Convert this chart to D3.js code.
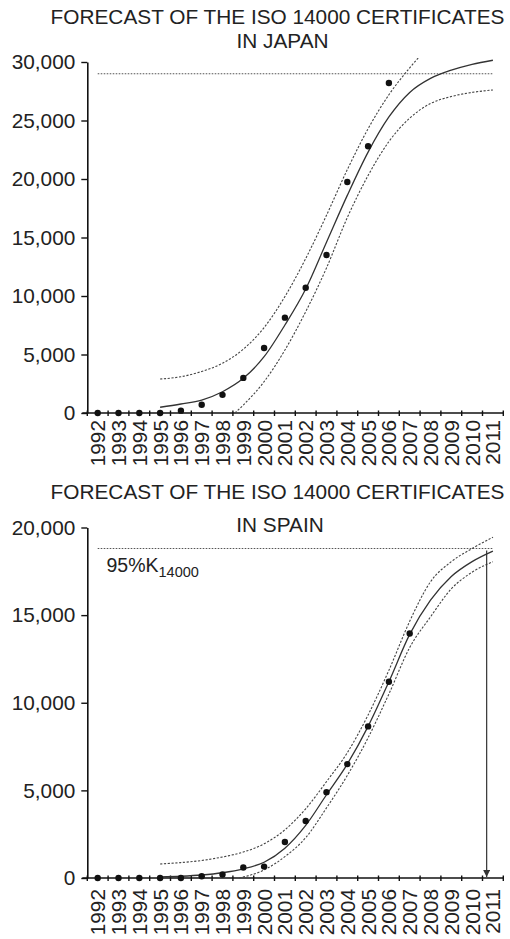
<!DOCTYPE html>
<html>
<head>
<meta charset="utf-8">
<script src="https://cdn.jsdelivr.net/npm/d3@7"></script>
<style>
  html, body { margin: 0; padding: 0; background: #fff; }
  svg { display: block; font-family: "Liberation Sans", Arial, sans-serif; }
</style>
</head>
<body>
<svg id="chart" width="510" height="939"></svg>
<script>
// ---------- DATA ----------
const years = [1992,1993,1994,1995,1996,1997,1998,1999,2000,2001,2002,2003,2004,2005,2006,2007,2008,2009,2010,2011];
const yTicksJapan = [0,5000,10000,15000,20000,25000,30000];
const yTicksSpain = [0,5000,10000,15000,20000];

// Japan
const japanObsYears = [1992,1993,1994,1995,1996,1997,1998,1999,2000,2001,2002,2003,2004,2005,2006];
const japanObs      = [0,0,0,0,200,700,1550,3000,5550,8150,10700,13500,19750,22800,28200];
const japanFitYears = [1995,1996,1997,1998,1999,2000,2001,2002,2003,2004,2005,2006,2007,2008,2009,2010,2011];
const japanFit      = [490,770,1110,1820,2960,4810,7520,10600,14600,18600,22300,25300,27400,28600,29300,29800,30150];
const japanUpYears  = [1995,1996,1997,1998,1999,2000,2001,2002,2003,2004,2005,2006,2007,2008];
const japanUp       = [2900,3100,3550,4250,5450,7300,9950,13200,16900,20800,24300,27200,29500,31500];
const japanLoYears  = [1998.6,1999,2000,2001,2002,2003,2004,2005,2006,2007,2008,2009,2010,2011];
const japanLo       = [0,680,2680,5380,8660,12400,16700,20300,23200,25200,26450,27050,27400,27610];
const japanK95      = 29000;

// Spain
const spainObsYears = [1992,1993,1994,1995,1996,1997,1998,1999,2000,2001,2002,2003,2004,2005,2006,2007];
const spainObs      = [0,0,0,0,0,100,200,600,650,2050,3250,4900,6500,8650,11200,13950];
const spainFitYears = [1995,1996,1997,1998,1999,2000,2001,2002,2003,2004,2005,2006,2007,2008,2009,2010,2011];
const spainFit      = [60,100,170,300,520,900,1700,3000,4750,6500,8650,11200,13900,15850,17200,18050,18650];
const spainUpYears  = [1995,1996,1997,1998,1999,2000,2001,2002,2003,2004,2005,2006,2007,2008,2009,2010,2011];
const spainUp       = [800,880,1000,1200,1480,1950,2750,3950,5500,7150,9300,11850,14650,16900,18050,18800,19450];
const spainLoYears  = [1998.8,2000,2001,2002,2003,2004,2005,2006,2007,2008,2009,2010,2011];
const spainLo       = [0,460,1220,2300,4000,5850,8000,10500,13150,14900,16500,17450,18050];
const spainK95      = 18800;
const spainArrowYear = 2010.7;

// ---------- DRAW ----------
const svg = d3.select("#chart");
const fontSize = 20.8;
const titleSize = 20.8;

function zip(xs, ys) { return xs.map((x, i) => ({x, y: ys[i]})); }

function drawChart(o) {
  const g = svg.append("g");
  const x = d3.scaleLinear().domain([1991.5, 2011.5]).range([87.3, 503.3]);
  const y = d3.scaleLinear().domain([0, o.yMax]).range([o.y0, o.yTop]);

  // titles
  g.append("text").attr("x", 277.5).attr("y", o.title1Y).attr("text-anchor", "middle")
    .attr("font-size", titleSize).attr("fill", "#222").text(o.title1);
  g.append("text").attr("x", o.title2X).attr("y", o.title2Y).attr("text-anchor", "middle")
    .attr("font-size", titleSize).attr("fill", "#222").text(o.title2);

  // clip
  const clipId = "clip" + o.id;
  g.append("clipPath").attr("id", clipId).append("rect")
    .attr("x", x(1991.5)).attr("y", y(o.clipTop)).attr("width", x(2011.5) - x(1991.5) + 2)
    .attr("height", y(0) - y(o.clipTop) + 1);

  // y axis
  const ya = g.append("g").attr("transform", `translate(${x(1991.5)},0)`)
    .call(d3.axisLeft(y).tickValues(o.yTicks).tickFormat(d3.format(",")).tickSize(6).tickPadding(6).tickSizeOuter(0));
  ya.select(".domain").attr("stroke", "#111").attr("stroke-width", 1.6);
  ya.selectAll(".tick line").attr("stroke", "#111").attr("stroke-width", 1.4);
  ya.selectAll(".tick text").attr("font-size", fontSize).attr("fill", "#222")
    .attr("font-family", "Liberation Sans, Arial, sans-serif");

  // x axis: ticks between categories
  const boundaries = d3.range(1991.5, 2012, 1);
  const xa = g.append("g").attr("transform", `translate(0,${y(0)})`);
  xa.append("line").attr("x1", x(1991.5) - 5).attr("x2", x(2011.5)).attr("stroke", "#111").attr("stroke-width", 1.6);
  xa.selectAll("line.tk").data(boundaries).join("line").attr("class", "tk")
    .attr("x1", d => x(d)).attr("x2", d => x(d)).attr("y1", -2.5).attr("y2", 3)
    .attr("stroke", "#111").attr("stroke-width", 1.4);
  xa.selectAll("text").data(years).join("text")
    .attr("transform", d => `translate(${x(d)},${o.labelOff}) rotate(-90)`)
    .attr("text-anchor", "end").attr("dy", "0.36em")
    .attr("font-size", fontSize).attr("fill", "#222").text(d => d);

  // 95% K line
  g.append("line").attr("x1", x(1992)).attr("x2", x(2011))
    .attr("y1", y(o.k95)).attr("y2", y(o.k95))
    .attr("stroke", "#555").attr("stroke-width", 1.1).attr("stroke-dasharray", "1.6,1.4");

  const line = d3.line().x(d => x(d.x)).y(d => y(d.y)).curve(d3.curveMonotoneX);
  const plot = g.append("g").attr("clip-path", `url(#${clipId})`);
  plot.append("path").datum(zip(o.upYears, o.up)).attr("d", line)
    .attr("fill", "none").attr("stroke", "#444").attr("stroke-width", 1.1).attr("stroke-dasharray", "2.2,1.6");
  plot.append("path").datum(zip(o.loYears, o.lo)).attr("d", line)
    .attr("fill", "none").attr("stroke", "#444").attr("stroke-width", 1.1).attr("stroke-dasharray", "2.2,1.6");
  plot.append("path").datum(zip(o.fitYears, o.fit)).attr("d", line)
    .attr("fill", "none").attr("stroke", "#333").attr("stroke-width", 1.3);

  // observations
  g.selectAll("circle.obs").data(zip(o.obsYears, o.obs)).join("circle").attr("class", "obs")
    .attr("cx", d => x(d.x)).attr("cy", d => y(d.y)).attr("r", 3.2).attr("fill", "#111");

  return {g, x, y};
}

const japan = drawChart({
  id: "jp", yMax: 30000, y0: 413, yTop: 62, yTicks: yTicksJapan, clipTop: 30350,
  title1: "FORECAST OF THE ISO 14000 CERTIFICATES", title1Y: 24,
  title2: "IN JAPAN", title2X: 282.5, title2Y: 47.5, labelOff: 7,
  obsYears: japanObsYears, obs: japanObs, fitYears: japanFitYears, fit: japanFit,
  upYears: japanUpYears, up: japanUp, loYears: japanLoYears, lo: japanLo, k95: japanK95
});

const spain = drawChart({
  id: "es", yMax: 20000, y0: 878, yTop: 527.5, yTicks: yTicksSpain, clipTop: 20000,
  title1: "FORECAST OF THE ISO 14000 CERTIFICATES", title1Y: 498.5,
  title2: "IN SPAIN", title2X: 280, title2Y: 531.5, labelOff: 11,
  obsYears: spainObsYears, obs: spainObs, fitYears: spainFitYears, fit: spainFit,
  upYears: spainUpYears, up: spainUp, loYears: spainLoYears, lo: spainLo, k95: spainK95
});

// 95%K14000 label
const lbl = spain.g.append("text").attr("x", 106.5).attr("y", 571.5).attr("fill", "#222").attr("font-size", 19.5);
lbl.append("tspan").text("95%K");
lbl.append("tspan").attr("font-size", 14.5).attr("dy", 5).text("14000");

// arrow
svg.append("defs").append("marker").attr("id", "arrowhead")
  .attr("viewBox", "0 0 10 10").attr("refX", 10).attr("refY", 5)
  .attr("markerWidth", 7).attr("markerHeight", 7).attr("markerUnits", "userSpaceOnUse")
  .attr("orient", "auto")
  .append("path").attr("d", "M0,0 L10,5 L0,10 Z").attr("fill", "#333");
spain.g.append("line")
  .attr("x1", spain.x(spainArrowYear)).attr("x2", spain.x(spainArrowYear))
  .attr("y1", spain.y(spainK95) + 2).attr("y2", spain.y(0) - 1)
  .attr("stroke", "#333").attr("stroke-width", 1.2).attr("marker-end", "url(#arrowhead)");
</script>
</body>
</html>
